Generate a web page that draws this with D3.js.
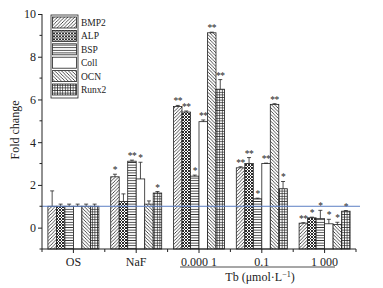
<!DOCTYPE html>
<html>
<head>
<meta charset="utf-8">
<script src="https://cdn.jsdelivr.net/npm/d3@7"></script>
<style>
  html, body { margin: 0; padding: 0; background: #fff; }
  svg { display: block; font-family: "Liberation Serif", "Times New Roman", serif; }
</style>
</head>
<body>
<svg id="chart" width="383" height="288"></svg>
<script>
// === Datos ===
const groups = ['OS', 'NaF', '0.000 1', '0.1', '1 000'];
const series = ['BMP2', 'ALP', 'BSP', 'Coll', 'OCN', 'Runx2'];

const bmp2 = [1.0, 2.38, 5.67, 2.80, 0.21];
const alp = [1.0, 1.22, 5.41, 3.00, 0.46];
const bsp = [1.0, 3.11, 2.41, 1.35, 0.42];
const coll = [1.0, 2.28, 4.96, 3.00, 0.18];
const ocn = [1.0, 1.10, 9.12, 5.77, 0.15];
const runx2 = [1.0, 1.62, 6.48, 1.82, 0.77];

const errBmp2 = [0.72, 0.12, 0.05, 0.05, 0.02];
const errAlp = [0.1, 0.36, 0.05, 0.28, 0.03];
const errBsp = [0.1, 0.05, 0.05, 0.03, 0.39];
const errColl = [0.1, 0.78, 0.08, 0.02, 0.21];
const errOcn = [0.1, 0.15, 0.03, 0.03, 0.1];
const errRunx2 = [0.1, 0.07, 0.45, 0.34, 0.03];

const starsBmp2 = ['', '*', '**', '**', '**'];
const starsAlp = ['', '', '**', '**', '*'];
const starsBsp = ['', '**', '*', '*', '*'];
const starsColl = ['', '*', '**', '**', '*'];
const starsOcn = ['', '', '**', '**', '*'];
const starsRunx2 = ['', '*', '**', '*', '*'];

const yTicks = [0, 2, 4, 6, 8, 10];
const yMinor = [-1, 1, 3, 5, 7, 9];
const baseline = 1;

const values = [bmp2, alp, bsp, coll, ocn, runx2];
const errs = [errBmp2, errAlp, errBsp, errColl, errOcn, errRunx2];
const stars = [starsBmp2, starsAlp, starsBsp, starsColl, starsOcn, starsRunx2];

const rows = [];
series.forEach((s, si) => groups.forEach((g, gi) => {
  rows.push({ s, si, g, v: values[si][gi], e: errs[si][gi], star: stars[si][gi] });
}));

// === Escalas ===
const svg = d3.select('#chart');
const y = d3.scaleLinear().domain([-1, 10]).range([249, 14]);
const x0 = d3.scaleBand().domain(groups).range([42, 356]);
const inner = (x0.bandwidth() - 51) / 2;
const x1 = d3.scaleBand().domain(series).range([inner, x0.bandwidth() - inner]);

// === Patrones ===
const defs = svg.append('defs');
function pat(id, size, draw) {
  const p = defs.append('pattern').attr('id', id).attr('patternUnits', 'userSpaceOnUse')
    .attr('width', size).attr('height', size);
  p.append('rect').attr('width', size).attr('height', size).attr('fill', '#fff');
  draw(p, size);
}
const ln = (p, a, b, c, d, w) => p.append('line').attr('x1', a).attr('y1', b).attr('x2', c).attr('y2', d)
  .attr('stroke', '#222').attr('stroke-width', w || 0.8);

pat('p-BMP2', 3.4, (p, s) => { ln(p, 0, s, s, 0); ln(p, -1, 1, 1, -1); ln(p, s - 1, s + 1, s + 1, s - 1); });
pat('p-ALP', 3, (p, s) => { ln(p, 0, s, s, 0, 0.95); ln(p, 0, 0, s, s, 0.95); });
pat('p-BSP', 2.6, (p, s) => { ln(p, 0, 1.3, s, 1.3, 0.8); });
pat('p-Coll', 4, () => {});
pat('p-OCN', 3.4, (p, s) => { ln(p, 0, 0, s, s); ln(p, -1, s - 1, 1, s + 1); ln(p, s - 1, -1, s + 1, 1); });
pat('p-Runx2', 2.6, (p, s) => { ln(p, 0, 1.3, s, 1.3, 0.7); ln(p, 1.3, 0, 1.3, s, 0.7); });

// === Barras ===
const bars = svg.append('g');
bars.selectAll('rect').data(rows).join('rect')
  .attr('x', d => x0(d.g) + x1(d.s))
  .attr('y', d => y(d.v))
  .attr('width', x1.bandwidth())
  .attr('height', d => y(-1) - y(d.v))
  .attr('fill', d => `url(#p-${d.s})`)
  .attr('stroke', '#222').attr('stroke-width', 0.8);

// error bars
const eb = svg.append('g').attr('stroke', '#222').attr('stroke-width', 0.8);
rows.forEach(d => {
  const cx = x0(d.g) + x1(d.s) + x1.bandwidth() / 2;
  eb.append('line').attr('x1', cx).attr('x2', cx).attr('y1', y(d.v)).attr('y2', y(d.v + d.e));
  eb.append('line').attr('x1', cx - 2).attr('x2', cx + 2).attr('y1', y(d.v + d.e)).attr('y2', y(d.v + d.e));
});

// asteriscos
svg.append('g').selectAll('text').data(rows.filter(d => d.star)).join('text')
  .attr('x', d => x0(d.g) + x1(d.s) + x1.bandwidth() / 2)
  .attr('y', d => y(d.v + d.e) - 1)
  .attr('text-anchor', 'middle')
  .attr('font-size', 9.5)
  .attr('letter-spacing', -0.5)
  .attr('fill', '#222')
  .text(d => d.star);

// línea de referencia
svg.append('line')
  .attr('x1', 42).attr('x2', 360).attr('y1', y(baseline)).attr('y2', y(baseline))
  .attr('stroke', '#5b7fc4').attr('stroke-width', 1);

// === Ejes ===
const yAxis = svg.append('g').attr('transform', 'translate(42,0)')
  .call(d3.axisLeft(y).tickValues(yTicks).tickSize(4).tickPadding(2));
yAxis.append('g').selectAll('line').data(yMinor).join('line')
  .attr('x1', -2.5).attr('x2', 0).attr('y1', d => y(d)).attr('y2', d => y(d)).attr('stroke', '#222');
yAxis.select('.domain').attr('d', `M0,${y(-1)}V14`);

const xAxis = svg.append('g').attr('transform', `translate(0,${y(-1)})`)
  .call(d3.axisBottom(x0).tickSize(4).tickPadding(4));
xAxis.select('.domain').attr('d', 'M42,0H356');
xAxis.append('g').selectAll('line').data(x0.domain().concat(['end'])).join('line')
  .attr('x1', (d, i) => 42 + i * x0.step()).attr('x2', (d, i) => 42 + i * x0.step())
  .attr('y1', 0).attr('y2', 3).attr('stroke', '#222');

svg.selectAll('.tick text').attr('font-size', 12).attr('fill', '#222').attr('font-family', '"Liberation Serif", serif');
svg.selectAll('.domain, .tick line').attr('stroke', '#222');

// Título eje Y
svg.append('text')
  .attr('transform', 'translate(19,130) rotate(-90)')
  .attr('text-anchor', 'middle').attr('font-size', 12).attr('fill', '#222')
  .text('Fold change');

// Subrayado Tb y etiqueta
svg.append('line').attr('x1', 180).attr('x2', 335).attr('y1', 267).attr('y2', 267)
  .attr('stroke', '#222').attr('stroke-width', 0.8);
const tb = svg.append('text').attr('x', 260).attr('y', 281).attr('text-anchor', 'middle')
  .attr('font-size', 12).attr('fill', '#222');
tb.append('tspan').text('Tb (μmol·L');
tb.append('tspan').attr('dy', -4).attr('font-size', 8).text('−1');
tb.append('tspan').attr('dy', 4).text(')');

// === Leyenda ===
const leg = svg.append('g').attr('transform', 'translate(51,15)');
leg.append('rect').attr('width', 27).attr('height', 83).attr('fill', '#fff')
  .attr('stroke', '#222').attr('stroke-width', 0.8);
const item = leg.selectAll('g.item').data(series).join('g').attr('class', 'item')
  .attr('transform', (d, i) => `translate(0,${2 + i * 13.4})`);
item.append('rect').attr('x', 1.5).attr('width', 24).attr('height', 11)
  .attr('fill', d => `url(#p-${d})`).attr('stroke', '#222').attr('stroke-width', 0.8);
item.append('text').attr('x', 30).attr('y', 9).attr('font-size', 9.5).attr('fill', '#222').text(d => d);
</script>
</body>
</html>
